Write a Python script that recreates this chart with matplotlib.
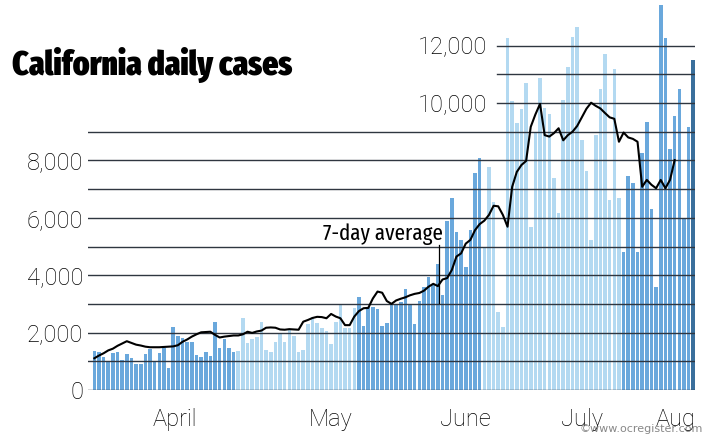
import os
import numpy as np
import matplotlib
matplotlib.use("Agg")
import matplotlib.pyplot as plt
from matplotlib import font_manager

# daily new cases, one bar per day
daily_cases = [
    1360, 1310, 1160, 990, 1280, 1310, 1045, 1240, 1100, 895,
    895, 1240, 1420, 990, 1280, 1450, 755, 2180, 1880, 1800,
    1680, 1660, 1220, 1140, 1330, 1190, 2360, 1450, 1780, 1450,
    1330, 1350, 2520, 1630, 1770, 1840, 2360, 1390, 1330, 1660,
    1975, 1680, 2090, 1890, 1330, 1390, 2300, 2550, 2320, 2150,
    2050, 1600, 2380, 2960, 2150, 2150, 2850, 3250, 2230, 2900,
    2900, 2810, 2230, 2320, 3020, 2960, 3080, 3510, 2960, 2300,
    3100, 3580, 3930, 3700, 4400, 3300, 5900, 6680, 5500, 5230,
    4300, 5570, 7570, 8090, 5000, 7760, 6560, 2730, 2200, 12250,
    10080, 9290, 9800, 10690, 5690, 9000, 10860, 9830, 9600, 7400,
    6160, 10120, 11270, 12300, 12660, 8700, 7640, 5230, 8900, 10500,
    11700, 6620, 11170, 6680, 4820, 7460, 7220, 4820, 8270, 9350,
    6300, 3580, 13410, 12250, 8390, 9550, 10480, 5980, 9150, 11500,
]

# 7-day average (stops a few days before the last bar)
seven_day_avg = [
    1105, 1200, 1280, 1380, 1440, 1540, 1620, 1700, 1640, 1580,
    1550, 1510, 1490, 1490, 1490, 1500, 1510, 1520, 1560, 1680,
    1760, 1860, 1940, 2010, 2020, 2030, 1920, 1830, 1860, 1880,
    1900, 1900, 1940, 2030, 1990, 2040, 2070, 2170, 2180, 2170,
    2110, 2100, 2120, 2110, 2100, 2380, 2440, 2510, 2550, 2540,
    2500, 2650, 2560, 2500, 2260, 2260, 2560, 2750, 2850, 2860,
    3190, 3430, 3390, 3100, 3000, 3120, 3180, 3230, 3300, 3350,
    3380, 3460, 3600, 3700, 3620, 3850, 3900, 4180, 4650, 4760,
    5100, 5230, 5570, 5780, 5900, 6100, 6420, 6400, 6100, 5690,
    7080, 7600, 7840, 7980, 9170, 9600, 9970, 8880, 8830, 8950,
    9120, 8700, 8880, 9000, 9200, 9500, 9800, 10010, 9900, 9810,
    9650, 9500, 9450, 8650, 8970, 8800, 8750, 8650, 7080, 7320,
    7150, 7030, 7320, 7030, 7320, 8010,
]

month_labels = ["April", "May", "June", "July", "Aug"]
month_pos = [17.4, 50.8, 79.9, 105.0, 125.3]

low_ticks = [0, 2000, 4000, 6000, 8000]
high_ticks = [10000, 12000]


# fonts: prefer condensed faces if any are installed, else narrow-ish regular ones
def weight_num(w):
    if isinstance(w, (int, float)):
        return w
    return font_manager.weight_dict.get(w, 400)


def condensed(min_w, max_w):
    best = None
    for f in font_manager.fontManager.ttflist:
        tag = (f.name + " " + os.path.basename(f.fname)).lower()
        if f.style != "normal":
            continue
        if "condensed" in tag or "narrow" in tag or f.stretch not in ("normal", 500):
            w = weight_num(f.weight)
            if min_w <= w <= max_w:
                score = ("extracondensed" in tag.replace(" ", "")) * 10 + w / 1000
                if best is None or score > best[0]:
                    best = (score, f.fname)
    return font_manager.FontProperties(fname=best[1]) if best else None


def find(family, weight):
    p = font_manager.FontProperties(family=family, weight=weight)
    try:
        font_manager.findfont(p, fallback_to_default=False)
        return p
    except ValueError:
        return None


title_font = (condensed(700, 1000) or find("Roboto", "black")
              or find("Roboto", "bold") or font_manager.FontProperties(family="DejaVu Sans", weight="bold"))
label_font = find("Roboto", "light") or font_manager.FontProperties(family="DejaVu Sans")
note_font = condensed(200, 400) or label_font

W, H = 710, 442
fig = plt.figure(figsize=(W / 100, H / 100), dpi=100)
ax = fig.add_axes([88 / W, 52 / H, 607 / W, 390 / H])

n = len(daily_cases)
x = np.arange(n)

# bar colours come in bands
medium = "#6aa8dc"
light = "#b3d9f1"
dark = "#3a6f9c"
bar_colors = []
for i in range(n):
    if i == n - 1:
        bar_colors.append(dark)
    elif 31 <= i <= 56 or 84 <= i <= 113:
        bar_colors.append(light)
    else:
        bar_colors.append(medium)

ax.bar(x, daily_cases, width=0.76, color=bar_colors, zorder=1)

# grid lines (drawn over the bars)
for v in range(0, 10000, 1000):
    ax.axhline(v, color="#2f3640", lw=1.0, zorder=2)
for v in range(10000, 13000, 1000):
    ax.axhline(v, xmin=(497 - 88) / 607, xmax=1, color="#2f3640", lw=1.0, zorder=2)

ax.plot(np.arange(len(seven_day_avg)), seven_day_avg, color="black", lw=1.5, zorder=3)

ax.set_xlim(-1.36, 129.38)
ax.set_ylim(0, 13589)
for s in ax.spines.values():
    s.set_visible(False)

ax.set_xticks(month_pos)
ax.set_xticklabels(month_labels, fontproperties=label_font, fontsize=17, color="black")
ax.set_yticks(low_ticks)
ax.set_yticklabels([f"{v:,}" for v in low_ticks], fontproperties=label_font,
                   fontsize=17, color="black")
ax.tick_params(axis="x", length=0, pad=13)
ax.tick_params(axis="y", length=0, pad=3.6)

for v in high_ticks:
    ax.text(84.6, v, f"{v:,}", ha="right", va="center_baseline",
            fontproperties=label_font, fontsize=17, color="black")

# 7-day average note with leader line
note = ax.text(75.1, 5226, "7-day average", ha="right", va="baseline",
               fontproperties=note_font, fontsize=20, color="black")
ax.plot([74.24, 74.24], [3030, 5050], color="black", lw=0.9, zorder=3)

title = fig.text(12 / W, 1 - 75 / H, "California daily cases", ha="left", va="baseline",
                 fontproperties=title_font, fontsize=30, color="black")

fig.text(703 / W, 1 - 432 / H, "\u00a9www.ocregister.com", ha="right", va="baseline",
         fontsize=8, color="#555555", alpha=0.7)

# squeeze the title and the note to their widths in the original
renderer = fig.canvas.get_renderer()
for t, target in [(title, 280), (note, 120)]:
    w = t.get_window_extent(renderer).width
    t.set_fontsize(t.get_fontsize() * target / w)

fig.savefig("out.png", dpi=100)
